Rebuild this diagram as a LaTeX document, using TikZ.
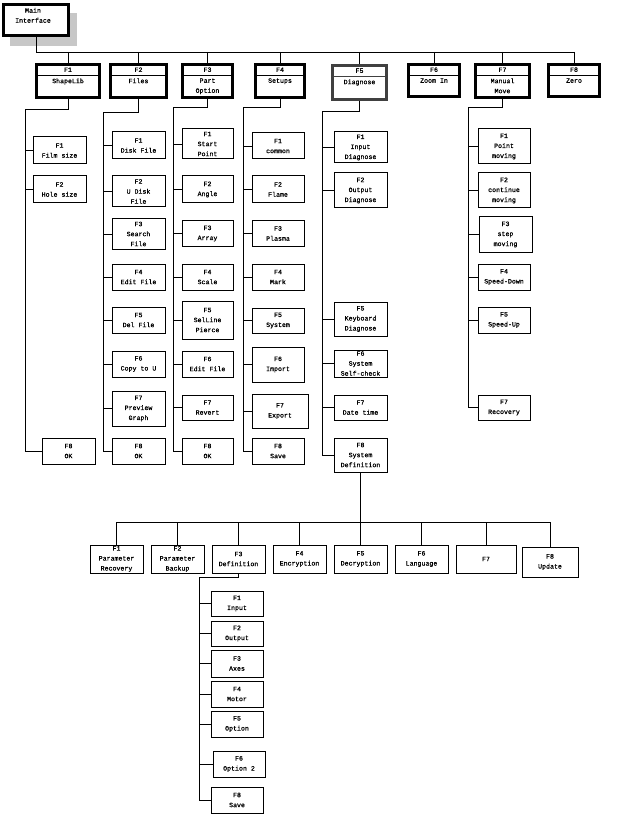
\documentclass[tikz,border=0pt]{standalone}
\usepackage{fontspec}
\setmainfont{Liberation Mono}[FakeBold=0.7]
\begin{document}
\begin{tikzpicture}[x=1pt,y=-1pt,
  lbl/.style={font=\fontsize{6.6}{10}\selectfont, align=center, inner sep=0pt},
  cbox/.style={draw, line width=1pt, fill=white, font=\fontsize{6.6}{10}\selectfont, align=center, inner sep=0pt},
  tbox/.style={draw=#1, line width=1.6pt, fill=white, inner sep=0pt},
  tbox/.default=black,
  conn/.style={line width=0.9pt},
  shadowc/.style={fill=black!22}]
\useasboundingbox (0,0) rectangle (616,818);

\newcommand\cb[6]{\node[cbox,minimum width={#4-#2},minimum height={#5-#3}] (#1) at ({(#2+#4)/2},{(#3+#5)/2}) {#6};}
\newcommand\tb[8]{%
  \node[tbox=#8,minimum width={#4-#2},minimum height={#5-#3}] (#1) at ({(#2+#4)/2},{(#3+#5)/2}) {};
  \draw[#8,line width=0.6pt] ([shift={(2.4pt,2.4pt)}]#1.south west) rectangle ([shift={(-2.4pt,-2.4pt)}]#1.north east);
  \draw[#8,line width=0.6pt] ([shift={(2.4pt,-12pt)}]#1.north west) -- ([shift={(-2.4pt,-12pt)}]#1.north east);
  \node[lbl] (#1k) at ([yshift=-6.5pt]#1.north) {#6};
  \node[lbl,anchor=north] (#1n) at ([yshift=-15pt]#1.north) {#7};
}

% main interface
\fill[shadowc] (10,13) rectangle (77,46);
\node[tbox,minimum width=66,minimum height=32] (main) at (36,20) {};
\draw[line width=0.6pt] ([shift={(2.4pt,2.4pt)}]main.south west) rectangle ([shift={(-2.4pt,-2.4pt)}]main.north east);
\node[lbl,anchor=north] (mainn) at ([shift={(-3pt,-4.5pt)}]main.north) {Main\\Interface};

% top level
\tb{t1}{36}{64}{100}{98}{F1}{ShapeLib}{black}
\tb{t2}{110}{64}{167}{98}{F2}{Files}{black}
\tb{t3}{182}{64}{233}{98}{F3}{Part\\Option}{black}
\tb{t4}{255}{64}{305}{98}{F4}{Setups}{black}
\tb{t5}{332}{65}{387}{100}{F5}{Diagnose}{black!75}
\tb{t6}{408}{64}{460}{97}{F6}{Zoom In}{black}
\tb{t7}{475}{64}{530}{98}{F7}{Manual\\Move}{black}
\tb{t8}{548}{64}{600}{97}{F8}{Zero}{black}

\coordinate (bus) at (0,52);
\draw[conn] (main.south) |- (t8.north |- bus);
\foreach \n in {t1,t2,t3,t4,t5,t6,t7,t8} \draw[conn] (\n.north |- bus) -- (\n.north);

% column 1
\cb{a1}{33}{137}{86}{164}{F1\\Film size}
\cb{a2}{33}{176}{86}{203}{F2\\Hole size}
\cb{a8}{42}{438}{95}{464}{F8\\OK}
\coordinate (j1) at (25,109);
\draw[conn] (t1.south) |- (j1) -- (j1 |- a8.west) -- (a8.west);
\foreach \n in {a1,a2} \draw[conn] (j1 |- \n.west) -- (\n.west);

% column 2
\cb{b1}{112}{132}{165}{159}{F1\\Disk File}
\cb{b2}{112}{176}{165}{207}{F2\\U Disk\\File}
\cb{b3}{112}{219}{165}{249}{F3\\Search\\File}
\cb{b4}{112}{264}{165}{290}{F4\\Edit File}
\cb{b5}{112}{307}{165}{333}{F5\\Del File}
\cb{b6}{112}{351}{165}{377}{F6\\Copy to U}
\cb{b7}{112}{391}{165}{426}{F7\\Preview\\Graph}
\cb{b8}{112}{438}{165}{464}{F8\\OK}
\coordinate (j2) at (103,112);
\draw[conn] (t2.south) |- (j2) -- (j2 |- b8.west) -- (b8.west);
\foreach \n in {b1,b2,b3,b4,b5,b6,b7} \draw[conn] (j2 |- \n.west) -- (\n.west);

% column 3
\cb{c1}{182}{129}{233}{159}{F1\\Start\\Point}
\cb{c2}{182}{176}{233}{203}{F2\\Angle}
\cb{c3}{182}{221}{233}{246}{F3\\Array}
\cb{c4}{182}{264}{233}{290}{F4\\Scale}
\cb{c5}{182}{301}{233}{339}{F5\\SelLine\\Pierce}
\cb{c6}{182}{351}{233}{377}{F6\\Edit File}
\cb{c7}{182}{395}{233}{420}{F7\\Revert}
\cb{c8}{182}{438}{233}{464}{F8\\OK}
\coordinate (j3) at (173,107);
\draw[conn] (t3.south) |- (j3) -- (j3 |- c8.west) -- (c8.west);
\foreach \n in {c1,c2,c3,c4,c5,c6,c7} \draw[conn] (j3 |- \n.west) -- (\n.west);

% column 4
\cb{d1}{252}{133}{304}{159}{F1\\common}
\cb{d2}{252}{176}{304}{203}{F2\\Flame}
\cb{d3}{252}{221}{304}{246}{F3\\Plasma}
\cb{d4}{252}{264}{304}{290}{F4\\Mark}
\cb{d5}{252}{308}{304}{333}{F5\\System}
\cb{d6}{252}{347}{304}{382}{F6\\Import}
\cb{d7}{252}{394}{308}{428}{F7\\Export}
\cb{d8}{252}{438}{304}{464}{F8\\Save}
\coordinate (j4) at (243,107);
\draw[conn] (t4.south) |- (j4) -- (j4 |- d8.west) -- (d8.west);
\foreach \n in {d1,d2,d3,d4,d5,d6,d7} \draw[conn] (j4 |- \n.west) -- (\n.west);

% column 5
\cb{e1}{334}{132}{387}{163}{F1\\Input\\Diagnose}
\cb{e2}{334}{173}{387}{208}{F2\\Output\\Diagnose}
\cb{e5}{334}{302}{387}{336}{F5\\Keyboard\\Diagnose}
\cb{e6}{334}{350}{387}{377}{F6\\System\\Self-check}
\cb{e7}{334}{395}{387}{420}{F7\\Date time}
\cb{e8}{334}{438}{387}{472}{F8\\System\\Definition}
\coordinate (j5) at (322,111);
\draw[conn] (t5.south) |- (j5) -- (j5 |- e8.west) -- (e8.west);
\foreach \n in {e1,e2,e5,e6,e7} \draw[conn] (j5 |- \n.west) -- (\n.west);

% column 7
\cb{g1}{478}{129}{530}{164}{F1\\Point\\moving}
\cb{g2}{478}{173}{530}{208}{F2\\continue\\moving}
\cb{g3}{479}{217}{532}{252}{F3\\step\\moving}
\cb{g4}{478}{264}{530}{290}{F4\\Speed-Down}
\cb{g5}{478}{307}{530}{333}{F5\\Speed-Up}
\cb{g7}{478}{395}{530}{420}{F7\\Recovery}
\coordinate (j7) at (468,107);
\draw[conn] (t7.south) |- (j7) -- (j7 |- g7.west) -- (g7.west);
\foreach \n in {g1,g2,g3,g4,g5} \draw[conn] (j7 |- \n.west) -- (\n.west);

% system definition row
\cb{s1}{90}{545}{143}{573}{F1\\Parameter\\Recovery}
\cb{s2}{151}{545}{204}{573}{F2\\Parameter\\Backup}
\cb{s3}{212}{545}{265}{573}{F3\\Definition}
\cb{s4}{273}{545}{326}{573}{F4\\Encryption}
\cb{s5}{334}{545}{387}{573}{F5\\Decryption}
\cb{s6}{395}{545}{448}{573}{F6\\Language}
\cb{s7}{456}{545}{516}{573}{F7}
\cb{s8}{522}{547}{578}{577}{F8\\Update}
\coordinate (sbus) at (0,522);
\draw[conn] (e8.south) -- (e8.south |- sbus);
\draw[conn] (s1.north |- sbus) -- (s8.north |- sbus);
\foreach \n in {s1,s2,s3,s4,s5,s6,s7,s8} \draw[conn] (\n.north |- sbus) -- (\n.north);

% definition children
\cb{h1}{211}{591}{263}{616}{F1\\Input}
\cb{h2}{211}{621}{263}{646}{F2\\Output}
\cb{h3}{211}{650}{263}{677}{F3\\Axes}
\cb{h4}{211}{681}{263}{707}{F4\\Motor}
\cb{h5}{211}{711}{263}{737}{F5\\Option}
\cb{h6}{213}{751}{265}{777}{F6\\Option 2}
\cb{h8}{211}{787}{263}{813}{F8\\Save}
\coordinate (j8) at (199,577);
\draw[conn] (s3.south) |- (j8) -- (j8 |- h8.west) -- (h8.west);
\foreach \n in {h1,h2,h3,h4,h5,h6} \draw[conn] (j8 |- \n.west) -- (\n.west);
\end{tikzpicture}
\end{document}
